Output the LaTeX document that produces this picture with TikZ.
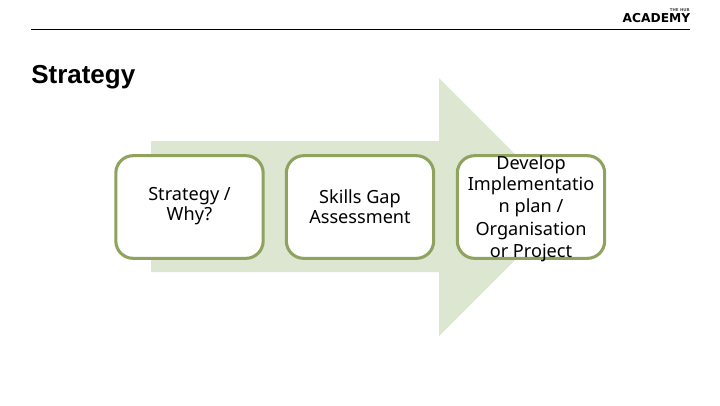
\documentclass[tikz,border=0pt]{standalone}
\usepackage{fontspec}
\setmainfont{Noto Sans}
\newfontfamily\headfont{Liberation Sans}
\newfontfamily\logofont{DejaVu Sans}
\definecolor{arrowfill}{HTML}{DDE6D0}
\definecolor{boxline}{HTML}{8FA35F}
\tikzset{
  x=0.75pt,y=-0.75pt,
  stepbox/.style={draw=boxline,line width=2.3pt,fill=white,rounded corners=13pt,minimum width=110.5pt,minimum height=77pt,inner sep=0pt,outer sep=0pt,anchor=center},
  boxtext/.style={font=\fontsize{13.6pt}{15pt}\selectfont,align=center,text=black,anchor=center,inner sep=0pt},
  tallbox/.style={boxtext,font=\fontsize{13.6pt}{16.1pt}\selectfont}
}
\begin{document}
\begin{tikzpicture}
\useasboundingbox (0,0) rectangle (720,405);
\fill[white] (0,0) rectangle (720,405);
\coordinate (ruleL) at (31,29);
\coordinate (ruleR) at (690,29);
\draw[line width=0.6pt,black] (ruleL) -- (ruleR);
\node[anchor=base east,inner sep=0pt,font=\logofont\bfseries\fontsize{9.2pt}{11pt}\selectfont] (logo) at (690.5,22) {ACADEMY};
\node[anchor=base east,inner sep=0pt,font=\logofont\bfseries\fontsize{3pt}{4pt}\selectfont,text=black!70] (logotop) at (690,11.5) {THE HUB};
\node[anchor=base west,inner sep=0pt,font=\headfont\bfseries\fontsize{19.5pt}{21pt}\selectfont] (title) at (31,83) {Strategy};
\fill[arrowfill] (151,141) -- (439,141) -- (439,78) -- (568,207) -- (439,336) -- (439,272) -- (151,272) -- cycle;
\node[stepbox] (b1) at (189.5,207) {};
\node[stepbox] (b2) at (360,207) {};
\node[stepbox] (b3) at (531,207) {};
\node[boxtext] (t1) at (189.5,206.5) {Strategy /\\Why?};
\node[boxtext] (t2) at (360,206.5) {Skills Gap\\Assessment};
\node[tallbox] (t3) at (531,208.5) {Develop\\Implementatio\\n plan /\\[1.5pt]Organisation\\or Project};
\end{tikzpicture}
\end{document}
